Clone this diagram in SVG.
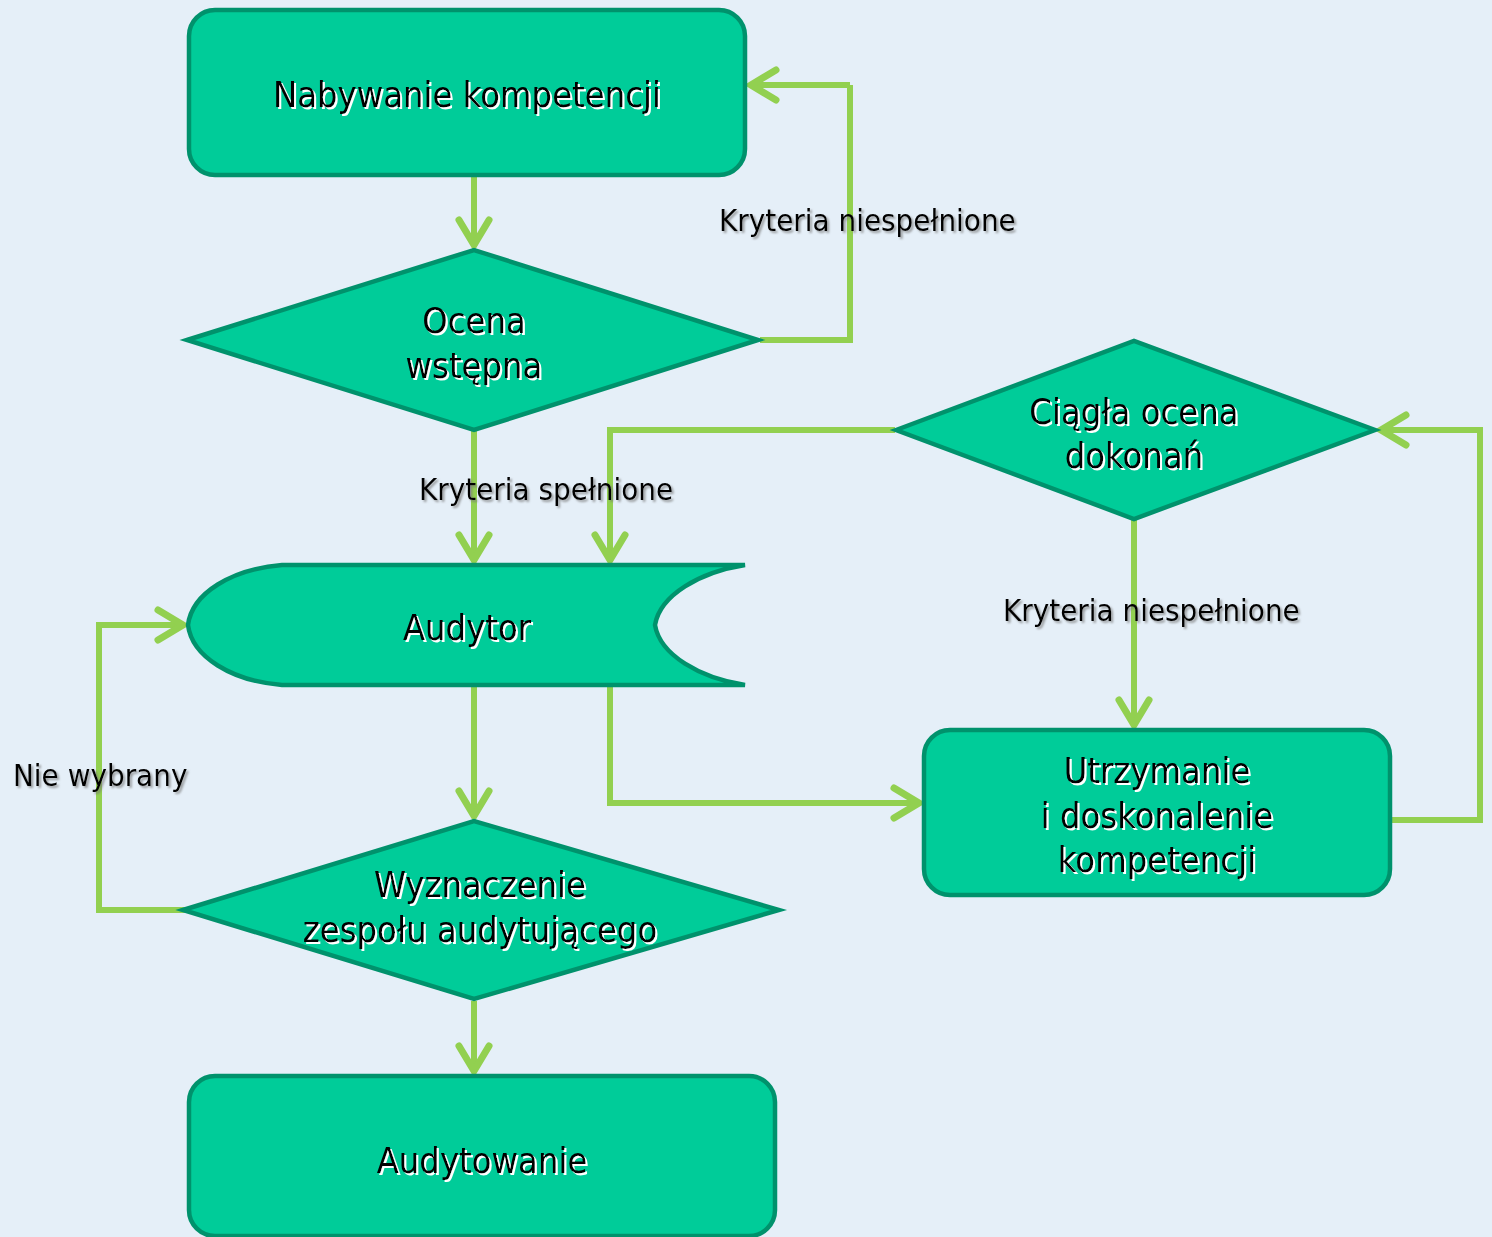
<svg xmlns="http://www.w3.org/2000/svg" width="1492" height="1237" viewBox="0 0 1492 1237">
<defs>
<style>
.node{fill:#00cc99;stroke:#00926c;stroke-width:4.5}
.t{font-family:"DejaVu Sans Condensed","DejaVu Sans",sans-serif;font-stretch:condensed;font-size:36px;fill:#000;text-anchor:middle;filter:url(#ws)}
.lbl{font-family:"DejaVu Sans Condensed","DejaVu Sans",sans-serif;font-stretch:condensed;font-size:31px;fill:#000;filter:url(#gs)}
.c{fill:none;stroke:#92d050;stroke-width:6;marker-end:url(#ah)}
.cn{fill:none;stroke:#92d050;stroke-width:6}
</style>
<filter id="ws" x="-5%" y="-20%" width="110%" height="140%"><feDropShadow dx="2" dy="2" stdDeviation="0" flood-color="#ffffff"/></filter>
<filter id="gs" x="-5%" y="-20%" width="110%" height="140%"><feDropShadow dx="2" dy="2" stdDeviation="1" flood-color="#777777" flood-opacity="0.7"/></filter>
<marker id="ah" markerUnits="userSpaceOnUse" markerWidth="40" markerHeight="40" viewBox="-30 -20 34 40" refX="0" refY="0" orient="auto" overflow="visible">
<path d="M-25,-15 L0,0 L-25,15" fill="none" stroke="#92d050" stroke-width="7" stroke-linecap="round" stroke-linejoin="miter"/>
</marker>
</defs>
<rect width="1492" height="1237" fill="#e5eff8"/>

<g id="connectors">
<path class="c" d="M474,176 V245"/>
<path class="cn" d="M760,340 H850 V85"/>
<path class="c" d="M850,85 H751"/>
<path class="c" d="M474,430 V560"/>
<path class="c" d="M895,430 H610 V560"/>
<path class="c" d="M1134,520 V725"/>
<path class="c" d="M474,686 V816"/>
<path class="c" d="M610,686 V803 H919"/>
<path class="c" d="M185,910 H99 V625 H183"/>
<path class="c" d="M474,1001 V1071"/>
<path class="c" d="M1391,820 H1480 V430 H1381"/>
<text class="lbl" x="719" y="231">Kryteria niespełnione</text>
<text class="lbl" x="419" y="500">Kryteria spełnione</text>
<text class="lbl" x="1003" y="621">Kryteria niespełnione</text>
<text class="lbl" x="13" y="786">Nie wybrany</text>
</g>

<g id="n-nabywanie">
<rect class="node" x="189" y="10" width="556" height="165" rx="26"/>
<text class="t" x="467" y="107">Nabywanie kompetencji</text>
</g>

<g id="n-ocena">
<polygon class="node" points="187,340 474,250 758,340 474,430"/>
<text class="t" x="474" y="333">Ocena</text>
<text class="t" x="474" y="378">wstępna</text>
</g>

<g id="n-ciagla">
<polygon class="node" points="896,430 1134,341 1375,430 1134,519"/>
<text class="t" x="1134" y="424">Ciągła ocena</text>
<text class="t" x="1134" y="468">dokonań</text>
</g>

<g id="n-audytor">
<path class="node" d="M282,565 H745 C700,572 660,595 655,625 C660,655 700,678 745,685 H282 C232,681 192,657 188,625 C192,593 232,569 282,565 Z"/>
<text class="t" x="467" y="640">Audytor</text>
</g>

<g id="n-utrzymanie">
<rect class="node" x="924" y="730" width="466" height="165" rx="26"/>
<text class="t" x="1157" y="783">Utrzymanie</text>
<text class="t" x="1157" y="828">i doskonalenie</text>
<text class="t" x="1157" y="872">kompetencji</text>
</g>

<g id="n-wyznaczenie">
<polygon class="node" points="183,910 474,821 779,910 474,999"/>
<text class="t" x="480" y="897">Wyznaczenie</text>
<text class="t" x="480" y="942">zespołu audytującego</text>
</g>

<g id="n-audytowanie">
<rect class="node" x="189" y="1076" width="586" height="160" rx="26"/>
<text class="t" x="482" y="1173">Audytowanie</text>
</g>
</svg>
